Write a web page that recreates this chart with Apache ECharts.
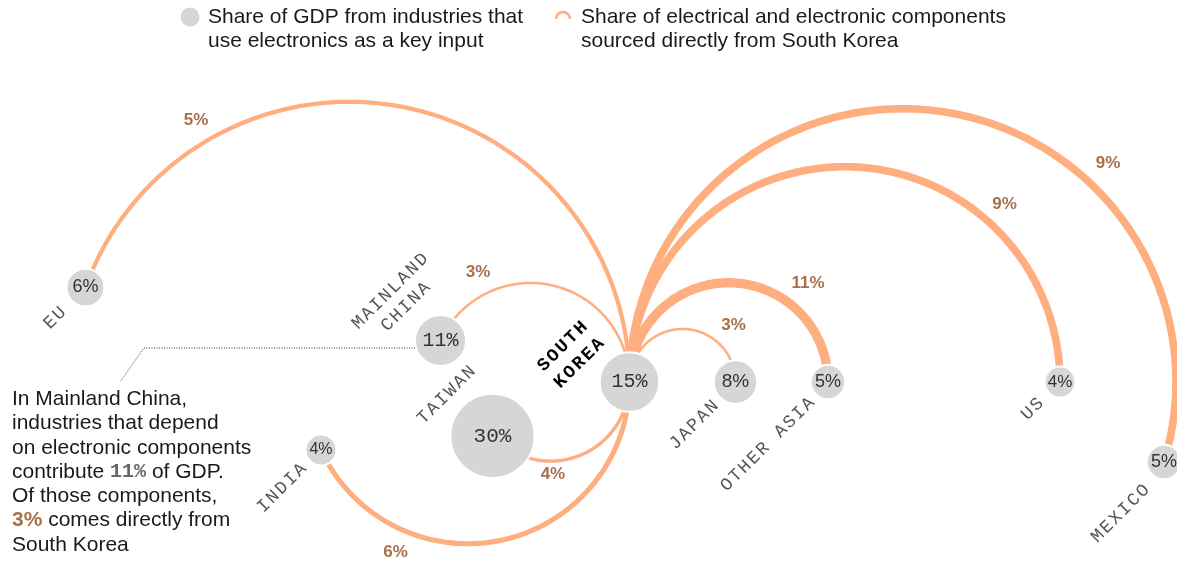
<!DOCTYPE html>
<html><head><meta charset="utf-8">
<script src="https://cdn.jsdelivr.net/npm/echarts@6/dist/echarts.min.js"></script>
<style>html,body{margin:0;padding:0;background:#fff}#c{width:1177px;height:563px}</style>
</head><body><div id="c"></div>
<script>
// ---- data ----
const countries = ['South Korea','Taiwan','Mainland China','EU','India','Japan','Other Asia','US','Mexico'];
const gdpShare = [15, 30, 11, 6, 4, 8, 5, 4, 5];          // circle values (%)
const koreaSourced = [null, 4, 3, 5, 6, 3, 11, 9, 9];     // arc values (%)
const nameLabels = [['SOUTH','KOREA'],['TAIWAN'],['MAINLAND','CHINA'],['EU'],['INDIA'],['JAPAN'],['OTHER ASIA'],['US'],['MEXICO']];

// ---- layout (axis units = pixels) ----
const layoutX = [629.5, 492.5, 440.5, 85.5, 321, 735.5, 828, 1060, 1164];
const layoutY = [382, 436, 340.5, 287.5, 450, 382, 382, 382, 462];
const arcSide = ['', 'down', 'up', 'up', 'down', 'up', 'up', 'up', 'up'];
const arcLabelAngle = [0, 88.4, -115.6, -120.3, 113, -47.9, -51.3, -48, -46.8];
const arcLabelGap = [0, 13.4, 22.4, 23.4, 23, 23.1, 27.5, 23.5, 26.6];
const nameOffset = [[-58.5,-27],[-46,-41],[-42.5,-41.5],[-30.5,30.5],[-39,38],[-41.5,43],[-60.5,62.5],[-27.5,27],[-43.5,51.5]];
const circleFont = [20, 21, 20, 18, 16, 19, 18, 17, 18];

const R_K = 7.7;
const ORANGE = '#ffae80', BROWN = '#a8704a', GRAY = '#d6d6d6';
const SANS = '"Liberation Sans", Arial, sans-serif';
const MONO = '"Liberation Mono", "DejaVu Sans Mono", monospace';

function renderArc(params, api) {
  const i = api.value(0), v = api.value(1), w = v * 0.85;
  const sk = api.coord([layoutX[0], layoutY[0]]);
  const c = api.coord([layoutX[i], layoutY[i]]);
  const xs = sk[0], ys = sk[1], xc = c[0], yc = c[1];
  const d = yc - ys;
  const cx = (xs * xs - xc * xc - d * d) / (2 * (xs - xc));
  const r = Math.abs(xs - cx);
  const a0 = cx < xs ? 0 : Math.PI;
  const ca = Math.atan2(yc - ys, xc - cx);
  const up = arcSide[i] === 'up';
  const s = up ? (a0 === 0 ? -1 : 1) : (a0 === 0 ? 1 : -1);
  const TWO = Math.PI * 2;
  const m = (((s * (ca - a0)) % TWO) + TWO) % TWO;
  const sweep = s * m;
  const pts = [];
  const N = 160;
  for (let k = 0; k <= N; k++) {
    const a = a0 + sweep * k / N;
    pts.push([cx + r * Math.cos(a), ys + r * Math.sin(a)]);
  }
  const la = arcLabelAngle[i] * Math.PI / 180, lr = r + arcLabelGap[i];
  return {
    type: 'group',
    children: [
      { type: 'polyline', shape: { points: pts }, style: { stroke: ORANGE, lineWidth: w, fill: 'none', lineCap: 'butt' } },
      { type: 'text', x: cx + lr * Math.cos(la), y: ys + lr * Math.sin(la),
        style: { text: v + '%', fill: BROWN, font: 'bold 17px ' + SANS, align: 'center', verticalAlign: 'middle' } }
    ]
  };
}

function renderName(params, api) {
  const i = api.value(0);
  const c = api.coord([layoutX[i], layoutY[i]]);
  const lines = nameLabels[i];
  const isSK = i === 0;
  const adv = isSK ? 13 : 12.7, lh = isSK ? 23.5 : 22;
  const u = [Math.SQRT1_2, -Math.SQRT1_2], p = [Math.SQRT1_2, Math.SQRT1_2];
  const bx = c[0] + nameOffset[i][0], by = c[1] + nameOffset[i][1];
  const children = [];
  lines.forEach((line, j) => {
    const off = (j - (lines.length - 1) / 2) * lh;
    const lx = bx + p[0] * off, ly = by + p[1] * off;
    [...line].forEach((ch, k) => {
      if (ch === ' ') return;
      const t = (k - (line.length - 1) / 2) * adv;
      children.push({
        type: 'text', x: lx + u[0] * t, y: ly + u[1] * t, rotation: Math.PI / 4,
        style: { text: ch, fill: isSK ? '#000' : '#555', font: (isSK ? 'bold 18px ' : '18px ') + MONO, align: 'center', verticalAlign: 'middle' }
      });
    });
  });
  return { type: 'group', children };
}

const chart = echarts.init(document.getElementById('c'), null, { renderer: 'canvas' });

const chinaR = R_K * Math.sqrt(gdpShare[2]);
const option = {
  animation: false,
  backgroundColor: '#fff',
  grid: { left: 0, right: 0, top: 0, bottom: 0 },
  xAxis: { type: 'value', min: 0, max: 1177, show: false },
  yAxis: { type: 'value', min: 0, max: 563, inverse: true, show: false },
  series: [
    {
      type: 'custom', z: 1, silent: true,
      renderItem: renderArc,
      data: countries.map((n, i) => [i, koreaSourced[i]]).filter(d => d[1] != null)
    },
    {
      type: 'scatter', z: 3, silent: true,
      symbol: 'circle',
      symbolSize: v => 2 * R_K * Math.sqrt(v[2]),
      itemStyle: { color: GRAY, borderColor: '#fff', borderWidth: 2, opacity: 1 },
      label: { show: true, position: 'inside', color: '#333', formatter: p => p.value[2] + '%' },
      data: countries.map((n, i) => ({
        name: n,
        value: [layoutX[i], layoutY[i], gdpShare[i]],
        label: { fontSize: circleFont[i], fontFamily: gdpShare[i] >= 10 ? MONO : SANS }
      }))
    },
    {
      type: 'custom', z: 4, silent: true,
      renderItem: renderName,
      data: countries.map((n, i) => [i])
    }
  ],
  graphic: [
    { type: 'circle', shape: { cx: 190, cy: 17, r: 9.5 }, style: { fill: GRAY } },
    { type: 'text', x: 208, y: 5, style: { text: 'Share of GDP from industries that\nuse electronics as a key input', fontSize: 21, fontFamily: SANS, lineHeight: 24, fill: '#1a1a1a', verticalAlign: 'top' } },
    { type: 'arc', shape: { cx: 563, cy: 19, r: 7, startAngle: Math.PI, endAngle: Math.PI * 2 }, style: { stroke: ORANGE, lineWidth: 2.5, fill: 'none' } },
    { type: 'text', x: 581, y: 5, style: { text: 'Share of electrical and electronic components\nsourced directly from South Korea', fontSize: 21, fontFamily: SANS, lineHeight: 24, fill: '#1a1a1a', verticalAlign: 'top' } },
    { type: 'polyline', shape: { points: [[layoutX[2] - chinaR, layoutY[2] + 7.5], [144, layoutY[2] + 7.5], [120, 382]] },
      style: { stroke: '#333', lineWidth: 1, lineDash: [1, 1.5], fill: 'none' } },
    { type: 'text', x: 12, y: 387, style: {
        text: 'In Mainland China,\nindustries that depend\non electronic components\ncontribute {g|' + gdpShare[2] + '%} of GDP.\nOf those components,\n{o|' + koreaSourced[2] + '%} comes directly from\nSouth Korea',
        fontSize: 21, fontFamily: SANS, lineHeight: 24.3, fill: '#1a1a1a', verticalAlign: 'top',
        rich: {
          g: { fontSize: 20, fontFamily: MONO, fontWeight: 'bold', fill: '#666', lineHeight: 24.3 },
          o: { fontSize: 21, fontFamily: SANS, fontWeight: 'bold', fill: BROWN, lineHeight: 24.3 }
        }
      } }
  ]
};
chart.setOption(option);
</script>
</body></html>
